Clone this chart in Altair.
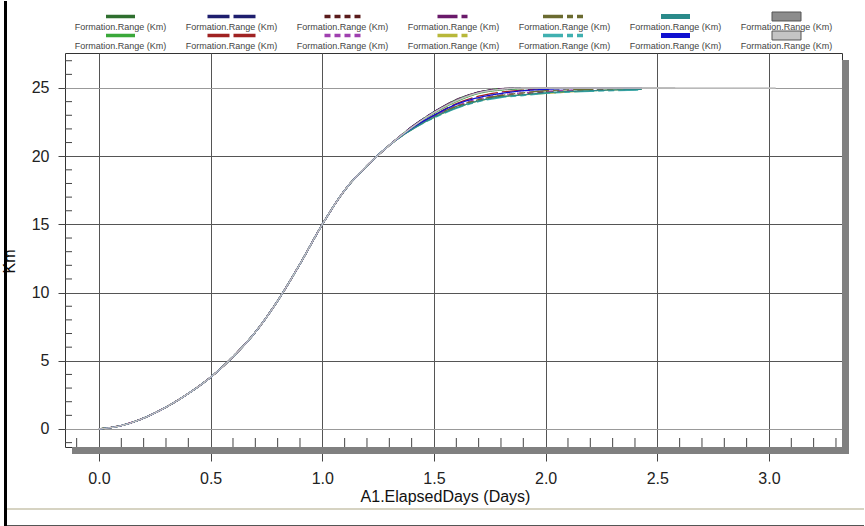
import altair as alt
import pandas as pd

# ---------------- data ----------------
series = ["s01", "s02", "s03", "s04", "s05", "s06", "s07",
          "s08", "s09", "s10", "s11", "s12", "s13", "s14"]
legend_label = "Formation.Range (Km)"

# shared rising part of the curves (days, km)
head_x = [0.0, 0.1, 0.2, 0.3, 0.4, 0.5, 0.6, 0.7, 0.8, 0.9, 1.0, 1.1, 1.2, 1.3]
head_y = [0.0, 0.25, 0.8, 1.6, 2.6, 3.8, 5.3, 7.1, 9.4, 12.1, 15.0, 17.5, 19.3, 20.8]

# individual plateau parts
tail_x = [1.4, 1.5, 1.6, 1.7, 1.8, 1.9, 2.0, 2.2, 2.43]
tail_s01 = [22.15, 23.25, 24.15, 24.7, 24.95, 25.0, 25.0, 25.0, 25.0]
tail_s02 = [22.1, 23.15, 24.0, 24.6, 24.85, 24.95, 25.0, 25.0, 25.0]
tail_s03 = [22.15, 23.25, 24.1, 24.7, 24.9, 25.0, 25.0, 25.0, 25.0]
tail_s04 = [22.05, 23.0, 23.85, 24.4, 24.7, 24.85, 24.95, 25.0, 25.0]
tail_s05 = [22.0, 22.9, 23.6, 24.1, 24.4, 24.55, 24.7, 24.85, 24.95]
tail_s06 = [22.05, 22.95, 23.7, 24.2, 24.5, 24.65, 24.75, 24.9, 24.95]
tail_s07 = [22.15, 23.25, 24.15, 24.7, 24.95, 25.0, 25.0, 25.0, 25.0]
tail_s08 = [21.95, 22.85, 23.55, 24.05, 24.35, 24.5, 24.6, 24.8, 24.9]
tail_s09 = [22.0, 22.95, 23.65, 24.15, 24.45, 24.65, 24.8, 24.9, 24.95]
tail_s10 = [21.95, 22.8, 23.5, 24.0, 24.3, 24.45, 24.6, 24.75, 24.85]
tail_s11 = [21.95, 22.85, 23.55, 24.05, 24.35, 24.5, 24.65, 24.8, 24.9]
tail_s12 = [22.05, 23.0, 23.8, 24.3, 24.6, 24.8, 24.9, 25.0, 25.0]
tail_s13 = [22.1, 23.2, 24.1, 24.65, 24.9, 25.0, 25.0, 25.0, 25.0]
tail_s14 = [22.1, 23.2, 24.05, 24.65, 24.9, 25.0, 25.0, 25.0, 25.0]
tails = [tail_s01, tail_s02, tail_s03, tail_s04, tail_s05, tail_s06, tail_s07,
         tail_s08, tail_s09, tail_s10, tail_s11, tail_s12, tail_s13, tail_s14]
# last points of the longer runs
end_x = {"s13": [2.58], "s14": [3.03]}
end_y = {"s13": [25.0], "s14": [25.0]}

# axis ticks
x_ticks = [0.0, 0.5, 1.0, 1.5, 2.0, 2.5, 3.0]
y_ticks = [0, 5, 10, 15, 20, 25]
x_minor = [-0.1, 0.1, 0.2, 0.3, 0.4, 0.6, 0.7, 0.8, 0.9, 1.1, 1.2, 1.3, 1.4,
           1.6, 1.7, 1.8, 1.9, 2.1, 2.2, 2.3, 2.4, 2.6, 2.7, 2.8, 2.9, 3.1, 3.2, 3.3]
y_minor = [-1, 1, 2, 3, 4, 6, 7, 8, 9, 11, 12, 13, 14, 16, 17, 18, 19,
           21, 22, 23, 24, 26, 27]

# ---------------- styles ----------------
colors = ["#2f6f2f", "#3aa83a", "#1e1e6e", "#a02222", "#5a1c1c", "#a040b0",
          "#6a1a6a", "#b8b83a", "#6b6b30", "#40b0b0", "#2a8a8a", "#1010d0",
          "#8c8c8c", "#c4c4c4"]
dashes = [[1, 0], [1, 0], [22, 4], [22, 4], [6, 4], [6, 4], [20, 4, 6, 4],
          [20, 4, 6, 4], [20, 4, 6, 4, 6, 4], [20, 4, 6, 4, 6, 4],
          [1, 0], [1, 0], [1, 0], [1, 0]]
line_widths = [1.3] * 12 + [4.6, 3.0]
swatch_len = [29, 48, 36, 32, 43, 29, 29]
FONT = "Liberation Sans"

# ---------------- tables ----------------
rows = []
for i, s in enumerate(series):
    xs = head_x + tail_x + end_x.get(s, [])
    ys = head_y + tails[i] + end_y.get(s, [])
    for x, y in zip(xs, ys):
        rows.append({"series": s, "x": x, "y": y})
curves = pd.DataFrame(rows)

leg_rows = []
for i, s in enumerate(series):
    c = i // 2
    leg_rows.append({"series": s, "col": c, "row": i % 2,
                     "len": swatch_len[c], "label": legend_label})
legend_df = pd.DataFrame(leg_rows)
one = pd.DataFrame({"a": [0]})

color_enc = alt.Color("series:N", scale=alt.Scale(domain=series, range=colors), legend=None)
dash_enc = alt.StrokeDash("series:N", scale=alt.Scale(domain=series, range=dashes), legend=None)

# ---------------- main plot ----------------
xscale = alt.Scale(domain=[-0.1522, 3.327], nice=False, zero=False)
yscale = alt.Scale(domain=[-1.32, 27.566], nice=False, zero=False)
xaxis = alt.Axis(values=x_ticks, format=".1f", title="A1.ElapsedDays (Days)",
                 grid=True, gridColor="#555", gridWidth=1, domain=False,
                 tickColor="#444", tickSize=14, labelFontSize=16, labelColor="#222",
                 labelPadding=9, labelFont=FONT, titleFont=FONT, titleFontSize=16,
                 titleFontWeight="normal", titleColor="#111", titlePadding=2, titleX=380)
yaxis = alt.Axis(values=y_ticks, title="Km", grid=True, gridWidth=1,
                 gridColor={"condition": {"test": "datum.value == 25 || datum.value == 0",
                                          "value": "#999"}, "value": "#555"},
                 domain=False, tickColor="#444", tickSize=7, labelFontSize=16,
                 labelColor="#222", labelPadding=9, labelFont=FONT, titleFont=FONT,
                 titleFontSize=16, titleFontWeight="normal", titleColor="#111",
                 titleX=-48, titleY=208, titleAngle=270, titleBaseline="bottom")


def X(f):
    return alt.X(f, type="quantitative", scale=xscale, axis=xaxis)


def Y(f):
    return alt.Y(f, type="quantitative", scale=yscale, axis=yaxis)


shadow_b = alt.Chart(one).mark_rect(color="#808080").encode(
    x=alt.value(7), x2=alt.value(784), y=alt.value(394), y2=alt.value(401))
shadow_r = alt.Chart(one).mark_rect(color="#808080").encode(
    x=alt.value(777), x2=alt.value(784), y=alt.value(7), y2=alt.value(401))

minor_x = alt.Chart(pd.DataFrame({"x": x_minor})).mark_rule(color="#444").encode(
    x=X("x"), y=alt.value(394), y2=alt.value(385))
minor_y = alt.Chart(pd.DataFrame({"y": y_minor})).mark_rule(color="#444").encode(
    y=Y("y"), x=alt.value(0), x2=alt.value(7))

lines = alt.Chart(curves).mark_line(interpolate="monotone").encode(
    x=X("x"), y=Y("y"), color=color_enc, strokeDash=dash_enc,
    strokeWidth=alt.StrokeWidth("series:N", scale=alt.Scale(domain=series, range=line_widths),
                                legend=None),
    detail="series:N")

left_bar = alt.Chart(one).mark_rect(color="#000").encode(
    x=alt.value(-61), x2=alt.value(-58), y=alt.value(0), y2=alt.value(474))
beige = alt.Chart(one).mark_rect(color="#d6d3c2").encode(
    x=alt.value(-58), x2=alt.value(799), y=alt.value(455), y2=alt.value(457))
bottom_line = alt.Chart(one).mark_rect(color="#555").encode(
    x=alt.value(-58), x2=alt.value(799), y=alt.value(472), y2=alt.value(473.5))

main = alt.layer(shadow_b, shadow_r, minor_x, minor_y, lines,
                 left_bar, beige, bottom_line).properties(
    width=777, height=394,
    view=alt.ViewBackground(stroke="#333", strokeWidth=1, fill="white"))

# ---------------- legend panel ----------------
lx = alt.Scale(domain=[-0.5, 6.5], nice=False, zero=False)
ly = alt.Scale(domain=[0, 1], range=[15.5, 34.5], nice=False, zero=False)
leg_base = alt.Chart(legend_df).transform_calculate(
    xa="datum.col - datum.len / 222", xb="datum.col + datum.len / 222")

leg_rules = leg_base.transform_filter(
    "datum.col < 5").mark_rule(strokeWidth=3.5).encode(
    x=alt.X("xa:Q", scale=lx, axis=None), x2="xb:Q",
    y=alt.Y("row:Q", scale=ly, axis=None), color=color_enc, strokeDash=dash_enc)
leg_thick = leg_base.transform_filter(
    "datum.col == 5").mark_rule(strokeWidth=5).encode(
    x=alt.X("xa:Q", scale=lx, axis=None), x2="xb:Q",
    y=alt.Y("row:Q", scale=ly, axis=None), color=color_enc)
leg_box = leg_base.transform_filter("datum.col == 6").mark_point(
    shape="M-1,-0.31L1,-0.31L1,0.31L-1,0.31Z", size=841, filled=True, opacity=1,
    stroke="#555", strokeWidth=1).encode(
    x=alt.X("col:Q", scale=lx, axis=None),
    y=alt.Y("row:Q", scale=ly, axis=None), color=color_enc)
leg_text = leg_base.mark_text(dy=10, fontSize=9, font=FONT, color="#444",
                              align="center", baseline="middle").encode(
    x=alt.X("col:Q", scale=lx, axis=None),
    y=alt.Y("row:Q", scale=ly, axis=None), text="label:N")
leg_bar = alt.Chart(one).mark_rect(color="#000").encode(
    x=alt.value(-61), x2=alt.value(-58), y=alt.value(0), y2=alt.value(52))

legend_panel = alt.layer(leg_rules, leg_thick, leg_box, leg_text, leg_bar).properties(
    width=777, height=52,
    view=alt.ViewBackground(stroke="transparent", fill="transparent"))

chart = alt.vconcat(legend_panel, main, spacing=0, bounds="flush").properties(
    padding=0, background="white").configure(font=FONT)

chart.save("out.html", embed_options={"renderer": "svg", "actions": False})
